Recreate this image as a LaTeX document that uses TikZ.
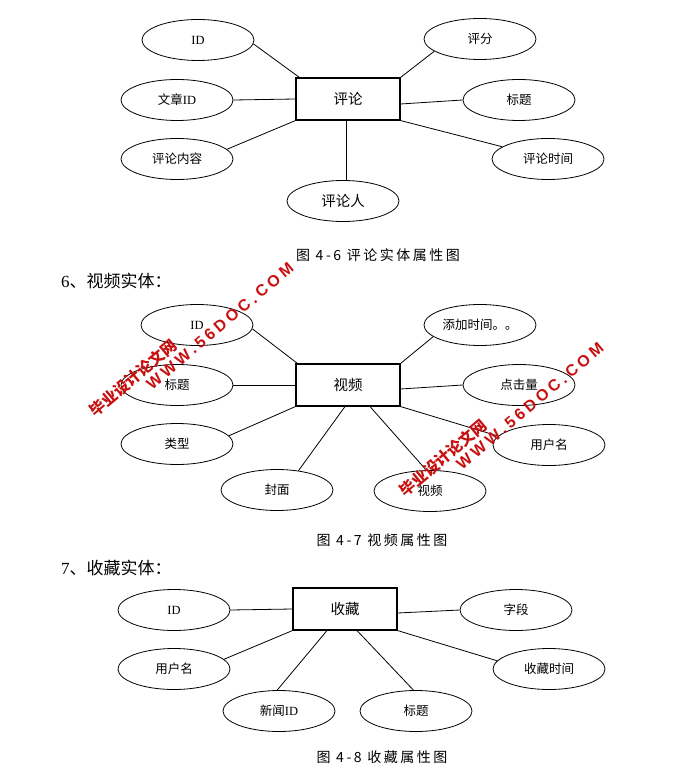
\documentclass[tikz,border=0pt]{standalone}
\usepackage{fontspec}
\setmainfont{Liberation Serif}
\newfontfamily\cjk{Noto Sans CJK SC}
\newfontfamily\cjkcap[LetterSpace=18]{Noto Sans CJK SC}
\newfontfamily\wmsans[LetterSpace=22]{Liberation Sans}
\usetikzlibrary{shapes.geometric}
\definecolor{wmred}{RGB}{200,16,16}
\newcommand{\lat}[1]{{\rmfamily #1}}
\begin{document}
\begin{tikzpicture}[x=1pt,y=-1pt,
  attr/.style={ellipse,draw,line width=0.8pt,minimum width=112pt,minimum height=41pt,inner sep=0pt,font=\cjk\fontsize{12.5}{14}\selectfont},
  bigattr/.style={attr,font=\cjk\fontsize{14.5}{16}\selectfont},
  ent/.style={rectangle,draw,line width=1.1pt,minimum width=104pt,minimum height=42pt,inner sep=0pt,font=\cjk\fontsize{14.5}{16}\selectfont},
  link/.style={line width=0.8pt},
  figcap/.style={font=\cjkcap\fontsize{14}{16}\selectfont},
  head/.style={anchor=west,inner sep=0pt,font=\fontsize{17}{19}\selectfont},
  wmcn/.style={text=wmred,rotate=40,inner sep=0pt,font=\cjk\bfseries\fontsize{15.5}{17}\selectfont},
  wmen/.style={text=wmred,rotate=40,inner sep=0pt,font=\wmsans\bfseries\fontsize{16}{18}\selectfont}]
\path[fill=white] (0,0) rectangle (679,775);
\useasboundingbox (0,0) rectangle (679,775);

% ---------- Figure 4-6 ----------
\node[ent] (r1) at (348,99) {评论};
\node[attr] (a1) at (198,40) {\lat{ID}};
\node[attr] (b1) at (480,39) {评分};
\node[attr] (c1) at (177,100) {文章\lat{ID}};
\node[attr] (d1) at (519,100) {标题};
\node[attr] (e1) at (177,159) {评论内容};
\node[attr] (f1) at (548,159) {评论时间};
\node[bigattr] (g1) at (343,201) {评论人};
\draw[link] ([xshift=4pt]r1.north west) -- (a1.-4);
\draw[link] (r1.north east) -- (b1.195);
\draw[link] (r1.west) -- (c1.east);
\draw[link] ([yshift=-5pt]r1.east) -- (d1.west);
\draw[link] (r1.south west) -- (e1.11);
\draw[link] (r1.south east) -- (f1.165);
\draw[link] ([xshift=-2pt]r1.south) -- ([xshift=-2pt]r1.south |- g1.north);
\node[figcap] (t1) at (378,255) {图 4-6 评论实体属性图};

% ---------- Figure 4-7 ----------
\node[head] (h6) at (61,281) {6\cjk 、视频实体：};
\node[ent] (r2) at (348,385) {视频};
\node[attr] (a2) at (197,325) {\lat{ID}};
\node[attr] (b2) at (480,325) {添加时间。。};
\node[attr] (c2) at (177,385) {标题};
\node[attr] (d2) at (519,385) {点击量};
\node[attr] (e2) at (177,444) {类型};
\node[attr] (f2) at (549,445) {用户名};
\node[attr] (g2) at (277,490) {封面};
\node[attr] (h2) at (430,491) {视频};
\draw[link] ([xshift=2pt]r2.north west) -- (a2.-4);
\draw[link] (r2.north east) -- (b2.194);
\draw[link] (r2.west) -- (c2.east);
\draw[link] ([yshift=-4pt]r2.east) -- (d2.west);
\draw[link] (r2.south west) -- (e2.9);
\draw[link] (r2.south east) -- (f2.170);
\draw[link] ([xshift=-3pt]r2.south) -- (g2.42);
\draw[link] ([xshift=22pt]r2.south) -- (h2.100);
\node[figcap] (t2) at (382,540) {图 4-7 视频属性图};

% ---------- Figure 4-8 ----------
\node[head] (h7) at (61,568) {7\cjk 、收藏实体：};
\node[ent] (r3) at (345,609) {收藏};
\node[attr] (a3) at (174,610) {\lat{ID}};
\node[attr] (b3) at (516,610) {字段};
\node[attr] (c3) at (174,669) {用户名};
\node[attr] (d3) at (549,669) {收藏时间};
\node[attr] (e3) at (279,711) {新闻\lat{ID}};
\node[attr] (f3) at (416,711) {标题};
\draw[link] (r3.west) -- (a3.east);
\draw[link] ([yshift=-4pt]r3.east) -- (b3.west);
\draw[link] (r3.south west) -- (c3.11);
\draw[link] (r3.south east) -- (d3.171);
\draw[link] ([xshift=-18pt]r3.south) -- (e3.95);
\draw[link] ([xshift=12pt]r3.south) -- (f3.97);
\node[figcap] (t3) at (382,757) {图 4-8 收藏属性图};

% ---------- watermarks ----------
\node[wmcn] (w1) at (133,378) {毕业设计论文网};
\node[wmen] (w2) at (220,326) {WWW.56DOC.COM};
\node[wmcn] (w3) at (443,458) {毕业设计论文网};
\node[wmen] (w4) at (530,406) {WWW.56DOC.COM};
\end{tikzpicture}
\end{document}
